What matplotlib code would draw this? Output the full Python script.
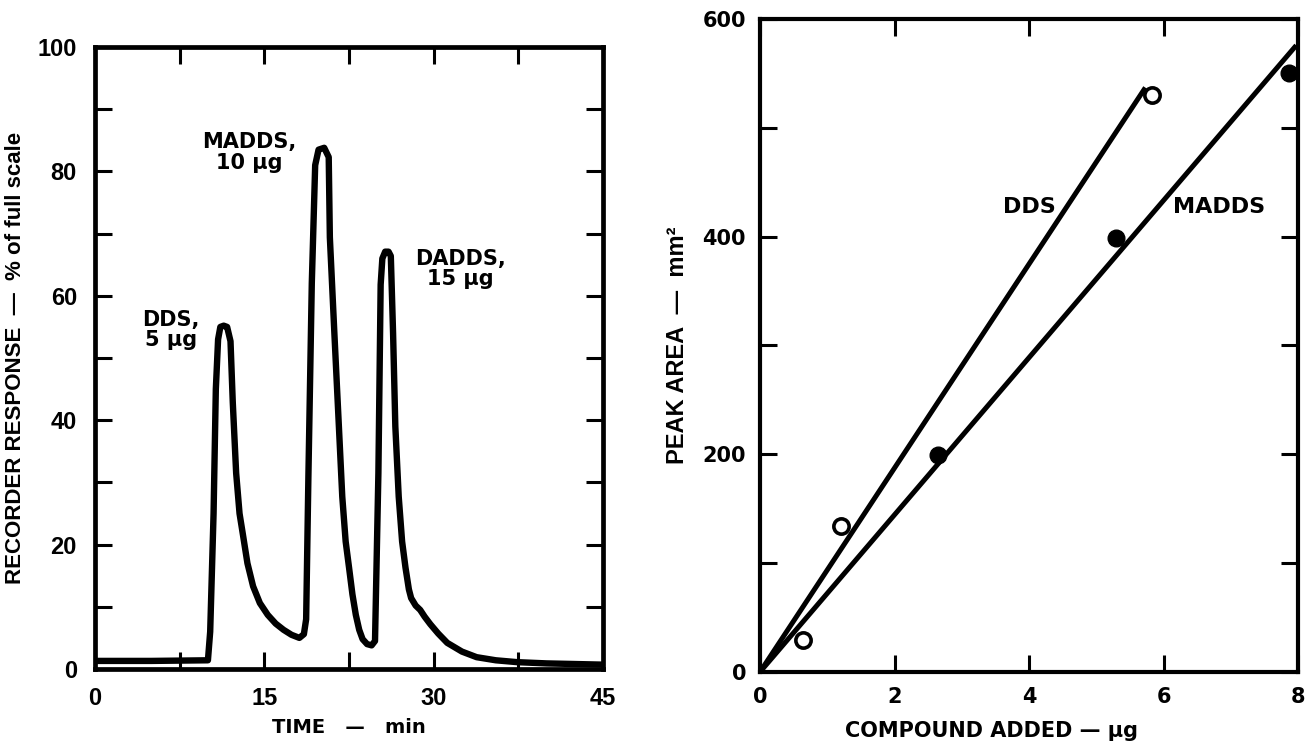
import matplotlib
matplotlib.use("Agg")
import matplotlib.pyplot as plt

# chromatogram trace (left panel)
time_min = [0, 5, 10.0, 10.2, 10.5, 10.7, 10.9, 11.1, 11.4, 11.7, 12.0, 12.2, 12.5,
            12.8, 13.1, 13.5, 14.0, 14.6, 15.3, 16.0, 16.7, 17.4, 18.1, 18.5,
            18.7, 18.9, 19.2, 19.5, 19.8, 20.3, 20.7, 20.8, 21.2, 21.6, 21.9, 22.2,
            22.5, 22.8, 23.1, 23.4, 23.7, 24.1, 24.5, 24.8, 25.1, 25.3, 25.45,
            25.7, 26.0, 26.2, 26.4, 26.6, 26.9, 27.2, 27.5, 27.8, 28.0, 28.4, 28.8,
            29.2, 29.7, 30.4, 31.2, 32.5, 33.8, 35.5, 37.4, 40.0, 42.5, 45.0]
response_pct = [1.3, 1.3, 1.4, 6, 25, 45, 53, 55, 55.2, 55, 52.7, 42.9, 31.5,
                25, 21.6, 17, 13.3, 10.6, 8.7, 7.3, 6.3, 5.5, 5.0, 5.6,
                8, 31, 62, 81, 83.5, 83.8, 82.3, 69.4, 54, 39, 27.7, 20.5,
                16.3, 12, 8.7, 6.3, 4.8, 4.0, 3.8, 4.5, 31.5, 61.8, 66,
                67.1, 67.1, 66.4, 54, 39, 27.7, 20.5, 16.3, 12.8, 11.4, 10.2, 9.5,
                8.4, 7.2, 5.7, 4.2, 2.8, 1.9, 1.4, 1.1, 0.9, 0.8, 0.7]

peak_names = ["DDS,\n5 \u03bcg", "MADDS,\n10 \u03bcg", "DADDS,\n15 \u03bcg"]
peak_label_t = [6.7, 13.7, 32.4]
peak_label_v = [54.5, 83, 64.3]

# calibration (right panel)
dds_added = [0.64, 1.2, 5.83]
dds_area = [29, 134, 530]
madds_added = [2.65, 5.29, 7.87]
madds_area = [199, 399, 550]
dds_fit_x = [0, 5.71]
dds_fit_y = [0, 535]
madds_fit_x = [0, 7.95]
madds_fit_y = [0, 574]

fig = plt.figure(figsize=(13.09, 7.43), dpi=100)

# ---- left: chromatogram
ax1 = fig.add_axes([0.0726, 0.0996, 0.3881, 0.8371])
ax1.plot(time_min, response_pct, color="black", lw=4.6,
         solid_joinstyle="round", solid_capstyle="butt")
ax1.set_xlim(0, 45)
ax1.set_ylim(0, 100)
ax1.set_xticks([0, 15, 30, 45])
ax1.set_xticks([7.5, 22.5, 37.5], minor=True)
ax1.set_yticks([0, 20, 40, 60, 80, 100])
ax1.set_yticks([10, 30, 50, 70, 90], minor=True)
ax1.tick_params(which="both", direction="in", top=True, right=True,
                length=12, width=2.2)
ax1.tick_params(axis="y", pad=13)
ax1.tick_params(axis="x", pad=13)
for lab in ax1.get_xticklabels() + ax1.get_yticklabels():
    lab.set_family("Liberation Sans")
    lab.set_fontweight("bold")
    lab.set_fontsize(17)
for s in ax1.spines.values():
    s.set_linewidth(3.4)

for name, t, v in zip(peak_names, peak_label_t, peak_label_v):
    ax1.text(t, v, name, ha="center", va="center", fontsize=15,
             fontweight="bold", family="DejaVu Sans", linespacing=1.05)

ax1.set_xlabel("TIME   \u2014   min", fontsize=14, fontweight="bold",
               family="DejaVu Sans", labelpad=6)
ax1.set_ylabel("RECORDER RESPONSE  \u2014  % of full scale", fontsize=16,
               fontweight="bold", family="Liberation Sans", labelpad=8)

# ---- right: peak area vs amount
ax2 = fig.add_axes([0.5806, 0.0956, 0.4110, 0.8789])
ax2.plot(dds_fit_x, dds_fit_y, color="black", lw=3.6)
ax2.plot(madds_fit_x, madds_fit_y, color="black", lw=3.6)
ax2.plot(dds_added, dds_area, "o", ms=11, mfc="white", mec="black", mew=2.6,
         clip_on=False)
ax2.plot(madds_added, madds_area, "o", ms=12, mfc="black", mec="black",
         clip_on=False)
ax2.text(4.01, 427, "DDS", ha="center", va="center", fontsize=16,
         fontweight="bold", family="DejaVu Sans")
ax2.text(6.83, 427, "MADDS", ha="center", va="center", fontsize=16,
         fontweight="bold", family="DejaVu Sans")
ax2.set_xlim(0, 8)
ax2.set_ylim(0, 600)
ax2.set_xticks([0, 2, 4, 6, 8])
ax2.set_yticks([0, 200, 400, 600])
ax2.set_yticks([100, 300, 500], minor=True)
ax2.tick_params(which="both", direction="in", top=True, right=True,
                length=12, width=2.2)
ax2.tick_params(axis="y", pad=10)
ax2.tick_params(axis="x", pad=11)
for lab in ax2.get_xticklabels() + ax2.get_yticklabels():
    lab.set_family("DejaVu Sans")
    lab.set_fontweight("bold")
    lab.set_fontsize(15)
for s in ax2.spines.values():
    s.set_linewidth(3.0)

ax2.set_xlabel("COMPOUND ADDED \u2014 \u03bcg", fontsize=15, fontweight="bold",
               family="DejaVu Sans", va="center")
ax2.xaxis.set_label_coords(0.43, -0.09)
ax2.set_ylabel("PEAK AREA  \u2014  mm\u00b2", fontsize=17, fontweight="bold",
               family="Liberation Sans", labelpad=10)

fig.savefig("out.png", dpi=100, facecolor="white")
